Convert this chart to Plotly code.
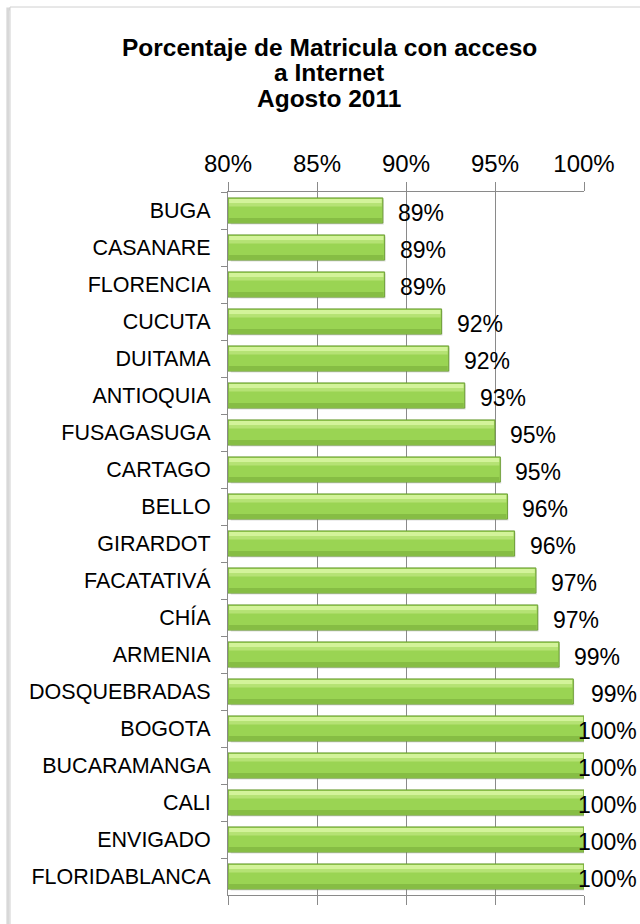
import plotly.graph_objects as go

categories = ["BUGA", "CASANARE", "FLORENCIA", "CUCUTA", "DUITAMA", "ANTIOQUIA",
              "FUSAGASUGA", "CARTAGO", "BELLO", "GIRARDOT", "FACATATIVÁ", "CHÍA",
              "ARMENIA", "DOSQUEBRADAS", "BOGOTA", "BUCARAMANGA", "CALI",
              "ENVIGADO", "FLORIDABLANCA"]
values = [88.7, 88.8, 88.8, 92.0, 92.4, 93.3, 95.0, 95.3, 95.7, 96.1, 97.3, 97.4,
          98.6, 99.4, 100.0, 100.0, 100.0, 100.0, 100.0]
tick_vals = [80, 85, 90, 95, 100]
tick_text = ["80%", "85%", "90%", "95%", "100%"]
title_lines = ["Porcentaje de Matricula con acceso", "a Internet", "Agosto 2011"]

FONT = "Liberation Sans, Arial, sans-serif"
W, H = 640, 924
ML, MR, MT, MB = 228, 56, 192, 29
pw, ph = W - ML - MR, H - MT - MB

fig = go.Figure()
lengths = [v - 80 for v in values]
# soft shadow
fig.add_trace(go.Bar(y=categories, x=[l - 0.1 for l in lengths], base=80.15, orientation="h",
                     width=0.68, offset=-0.30,
                     marker=dict(color="rgba(140,140,140,0.30)", line=dict(width=0)),
                     hoverinfo="skip", showlegend=False))
# main bar
fig.add_trace(go.Bar(y=categories, x=lengths, base=80, orientation="h",
                     width=0.68, offset=-0.34,
                     marker=dict(color="#9ad453", line=dict(color="#6f9f38", width=1)),
                     showlegend=False))
# bottom darker band
fig.add_trace(go.Bar(y=categories, x=[l - 0.12 for l in lengths], base=80.06, orientation="h",
                     width=0.12, offset=0.20,
                     marker=dict(color="#86bd44", line=dict(width=0)),
                     hoverinfo="skip", showlegend=False))
# top highlight bands
fig.add_trace(go.Bar(y=categories, x=[l - 0.12 for l in lengths], base=80.06, orientation="h",
                     width=0.12, offset=-0.31,
                     marker=dict(color="#d3f39a", line=dict(width=0)),
                     hoverinfo="skip", showlegend=False))
fig.add_trace(go.Bar(y=categories, x=[l - 0.12 for l in lengths], base=80.06, orientation="h",
                     width=0.08, offset=-0.19,
                     marker=dict(color="#b5e274", line=dict(width=0)),
                     hoverinfo="skip", showlegend=False))

annotations = []
for c, v in zip(categories, values):
    label = f"{round(v):.0f}%"
    if v >= 99:
        annotations.append(dict(x=100, y=c, xref="x", yref="y", text=label, showarrow=False,
                                xanchor="right", xshift=55, yshift=-2,
                                font=dict(family=FONT, size=23, color="black")))
    else:
        annotations.append(dict(x=v, y=c, xref="x", yref="y", text=label, showarrow=False,
                                xanchor="left", xshift=13, yshift=-2,
                                font=dict(family=FONT, size=23, color="black")))

# title as three centred lines
title_cx = (329 - ML) / pw
for line, py in zip(title_lines, [47, 73, 99]):
    annotations.append(dict(x=title_cx, y=(H - MB - py) / ph, xref="paper", yref="paper",
                            text="<b>" + line + "</b>", showarrow=False,
                            xanchor="center", yanchor="middle", borderpad=0,
                            font=dict(family=FONT, size=24.5, color="black")))

# chart frame
fx0 = (10 - ML) / pw
fy1 = (H - MB - 7) / ph
fig.add_shape(type="rect", xref="paper", yref="paper", x0=fx0 - 0.006, x1=1.3,
              y0=-0.2, y1=fy1 - 0.003, line=dict(color="rgba(190,190,190,0.6)", width=3),
              layer="below")
fig.add_shape(type="rect", xref="paper", yref="paper", x0=fx0, x1=1.3,
              y0=-0.2, y1=fy1, line=dict(color="#d0d0d0", width=1), fillcolor="white",
              layer="below")

fig.update_layout(
    width=W, height=H,
    margin=dict(l=ML, r=MR, t=MT, b=MB),
    paper_bgcolor="white", plot_bgcolor="rgba(0,0,0,0)",
    barmode="overlay",
    font=dict(family=FONT, color="black"),
    annotations=annotations,
    xaxis=dict(range=[80, 100], side="top", tickvals=tick_vals, ticktext=tick_text,
               showgrid=True, gridcolor="#8a8a8a", gridwidth=1,
               showline=True, linecolor="#8a8a8a", linewidth=1, mirror="ticks",
               ticks="outside", ticklen=9, tickcolor="#8a8a8a",
               tickfont=dict(family=FONT, size=24, color="black"),
               zeroline=False, fixedrange=True),
    yaxis=dict(autorange="reversed", type="category", tickson="boundaries",
               ticks="outside", ticklen=6, tickcolor="#8a8a8a",
               showline=True, linecolor="#8a8a8a", linewidth=1,
               showgrid=False, ticklabelstandoff=12,
               tickfont=dict(family=FONT, size=21.5, color="black")),
)

fig.write_html("out.html", config={"displayModeBar": False},
               post_script="document.body.style.margin='0';document.body.style.overflow='hidden';")
